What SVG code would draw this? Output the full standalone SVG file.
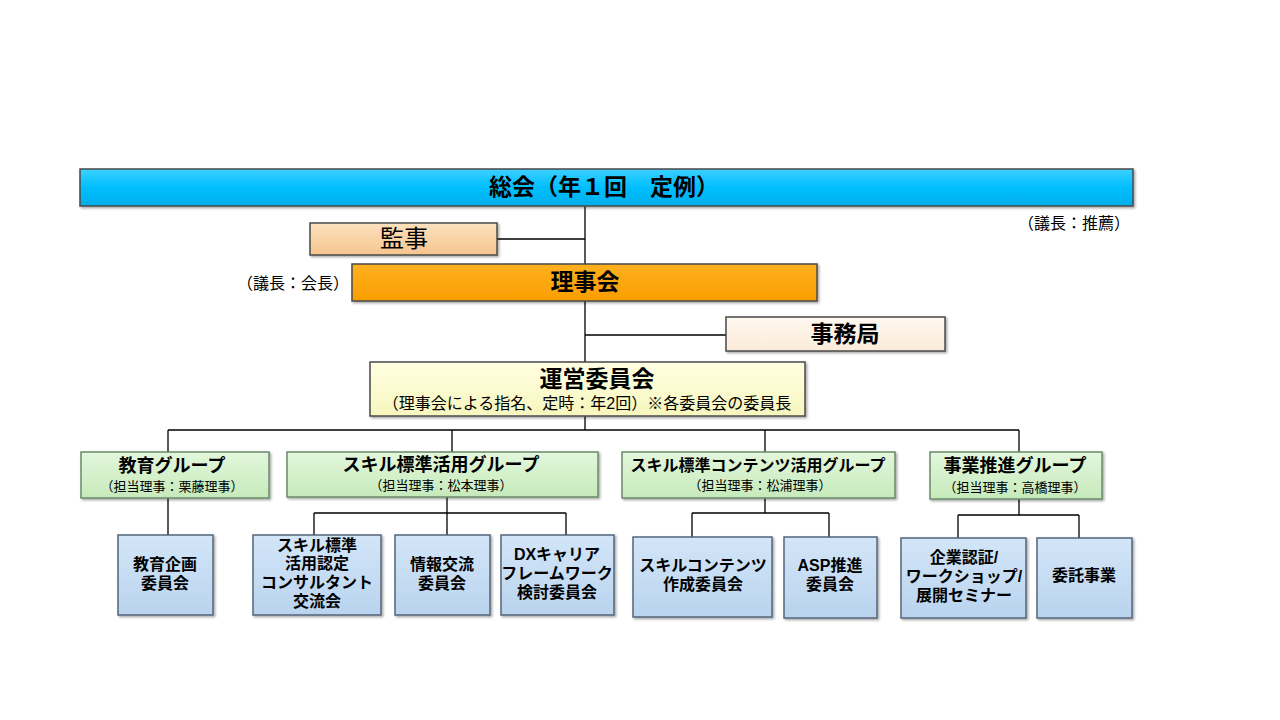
<svg xmlns="http://www.w3.org/2000/svg" width="1280" height="720" viewBox="0 0 1280 720">
<defs>
<linearGradient id="gBlue" x1="0" y1="0" x2="0" y2="1"><stop offset="0" stop-color="#3DD0FF"/><stop offset="0.5" stop-color="#00BFFF"/><stop offset="1" stop-color="#00AEEA"/></linearGradient>
<linearGradient id="gPeach" x1="0" y1="0" x2="0" y2="1"><stop offset="0" stop-color="#FDE2BF"/><stop offset="1" stop-color="#F6C48E"/></linearGradient>
<linearGradient id="gOrange" x1="0" y1="0" x2="0" y2="1"><stop offset="0" stop-color="#FFB020"/><stop offset="1" stop-color="#FA9E00"/></linearGradient>
<linearGradient id="gCream" x1="0" y1="0" x2="0" y2="1"><stop offset="0" stop-color="#FFF8F0"/><stop offset="1" stop-color="#FBEBDA"/></linearGradient>
<linearGradient id="gYellow" x1="0" y1="0" x2="0" y2="1"><stop offset="0" stop-color="#FFFFE2"/><stop offset="1" stop-color="#F7F6BE"/></linearGradient>
<linearGradient id="gGreen" x1="0" y1="0" x2="0" y2="1"><stop offset="0" stop-color="#E3F7DC"/><stop offset="1" stop-color="#C6EABB"/></linearGradient>
<linearGradient id="gLBlue" x1="0" y1="0" x2="0" y2="1"><stop offset="0" stop-color="#D3E6F8"/><stop offset="1" stop-color="#B9D3EE"/></linearGradient>
<filter id="sh" x="-5%" y="-10%" width="110%" height="130%"><feDropShadow dx="1.5" dy="1.5" stdDeviation="1" flood-color="#000" flood-opacity="0.35"/></filter>
</defs>
<style>
text{font-family:"Liberation Sans","Noto Sans CJK JP",sans-serif;fill:#000;text-anchor:middle}
.b{font-weight:bold}
.box{stroke:#4A4A4A;stroke-width:1.5;filter:url(#sh)}
.grp{fill:url(#gGreen);stroke:#6A8A6A;stroke-width:1.5;filter:url(#sh)}
.com{fill:url(#gLBlue);stroke:#55657A;stroke-width:1.5;filter:url(#sh)}
.t18{font-size:18px;font-weight:bold}
.t13{font-size:13px}
.t16{font-size:16px;font-weight:bold}
.note{font-size:16px;text-anchor:start}
#connectors{stroke:#000;stroke-width:1.3;fill:none}
</style>
<rect width="1280" height="720" fill="#fff"/>
<g id="connectors">
<path d="M585 206V416M497 239H585M585 335H726M585 416V430M168 430H1019M168 430V452M452 430V452M765 430V452M1019 430V452"/>
<path d="M168 498V535M447 497V513M314 513H566M314 513V535M447 513V535M566 513V535"/>
<path d="M765 498V513M692 513H829M692 513V537M829 513V537"/>
<path d="M1019 499V515M958 515H1079M958 515V538M1079 515V538"/>
</g>
<g id="soukai"><rect class="box" x="80" y="169" width="1053" height="37" fill="url(#gBlue)" stroke="#3A4A55"/><text class="b" x="604" y="195" font-size="23">総会（年１回　定例）</text></g>
<text class="note" x="1018" y="229">（議長：推薦）</text>
<g id="kanji"><rect class="box" x="310" y="223" width="187" height="32" fill="url(#gPeach)"/><text x="404" y="247" font-size="24">監事</text></g>
<text class="note" x="237" y="289">（議長：会長）</text>
<g id="rijikai"><rect class="box" x="352" y="264" width="465" height="37" fill="url(#gOrange)" stroke="#C85A10"/><text class="b" x="585" y="290" font-size="23">理事会</text></g>
<g id="jimukyoku"><rect class="box" x="726" y="317" width="219" height="34" fill="url(#gCream)"/><text class="b" x="845" y="342" font-size="23">事務局</text></g>
<g id="unei"><rect class="box" x="370" y="362" width="435" height="54" fill="url(#gYellow)" stroke="#9A9A9A"/><text class="b" x="597" y="387" font-size="23">運営委員会</text><text x="587" y="409" font-size="16">（理事会による指名、定時：年2回）※各委員会の委員長</text></g>
<g id="g-kyoiku"><rect class="grp" x="81" y="452" width="188" height="46"/><text class="t18" x="172" y="472">教育グループ</text><text class="t13" x="172" y="491">（担当理事：栗藤理事）</text></g>
<g id="g-skill"><rect class="grp" x="287" y="452" width="311" height="45"/><text class="t18" x="441" y="471">スキル標準活用グループ</text><text class="t13" x="441" y="490">（担当理事：松本理事）</text></g>
<g id="g-contents"><rect class="grp" x="622" y="452" width="273" height="46"/><text class="b" x="758" y="471" font-size="16">スキル標準コンテンツ活用グループ</text><text class="t13" x="760" y="490">（担当理事：松浦理事）</text></g>
<g id="g-jigyo"><rect class="grp" x="930" y="452" width="172" height="47"/><text class="t18" x="1015" y="472">事業推進グループ</text><text class="t13" x="1015" y="492">（担当理事：高橋理事）</text></g>
<g id="c-kyoikukikaku"><rect class="com" x="118" y="535" width="95" height="80"/><text class="t16" x="165" y="570">教育企画</text><text class="t16" x="165" y="589">委員会</text></g>
<g id="c-consul"><rect class="com" x="253" y="535" width="128" height="80"/><text class="t16" x="317" y="551">スキル標準</text><text class="t16" x="317" y="569">活用認定</text><text class="t16" x="317" y="588">コンサルタント</text><text class="t16" x="317" y="607">交流会</text></g>
<g id="c-joho"><rect class="com" x="395" y="535" width="95" height="80"/><text class="t16" x="442" y="570">情報交流</text><text class="t16" x="442" y="589">委員会</text></g>
<g id="c-dx"><rect class="com" x="501" y="535" width="113" height="80"/><text class="t16" x="557" y="560">DXキャリア</text><text class="t16" x="557" y="579">フレームワーク</text><text class="t16" x="557" y="598">検討委員会</text></g>
<g id="c-sakusei"><rect class="com" x="633" y="537" width="139" height="80"/><text class="t16" x="703" y="571">スキルコンテンツ</text><text class="t16" x="703" y="590">作成委員会</text></g>
<g id="c-asp"><rect class="com" x="784" y="537" width="93" height="81"/><text class="t16" x="830" y="571">ASP推進</text><text class="t16" x="830" y="590">委員会</text></g>
<g id="c-kigyo"><rect class="com" x="901" y="538" width="125" height="80"/><text class="t16" x="964" y="563">企業認証/</text><text class="t16" x="964" y="582">ワークショップ/</text><text class="t16" x="964" y="601">展開セミナー</text></g>
<g id="c-itaku"><rect class="com" x="1037" y="538" width="95" height="80"/><text class="t16" x="1084" y="581">委託事業</text></g>
</svg>
